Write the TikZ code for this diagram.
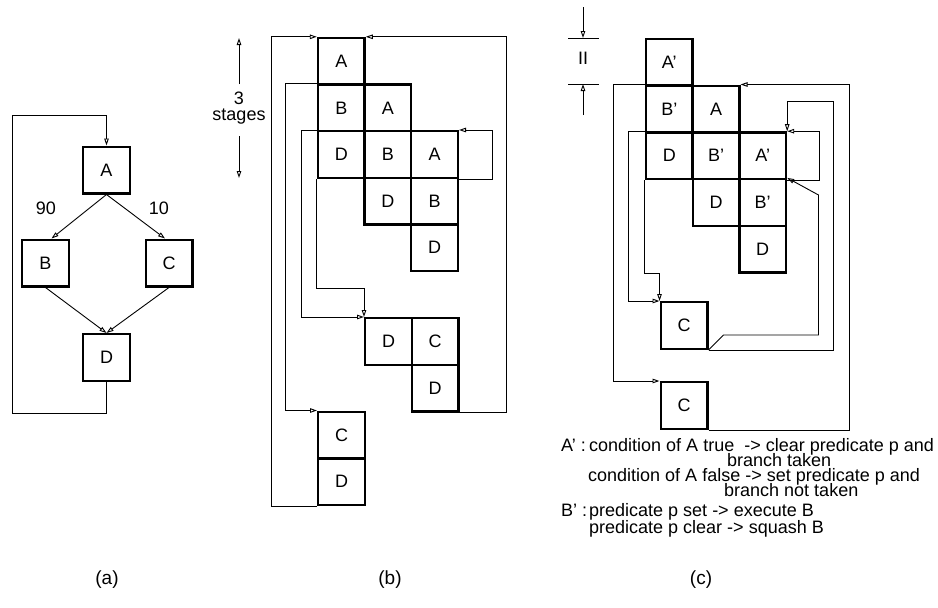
\documentclass[tikz,border=0pt]{standalone}
\usepackage{fontspec}
\setmainfont{Liberation Sans}
\usetikzlibrary{arrows.meta}

\begin{document}
\begin{tikzpicture}[x=1pt, y=-1pt,
  cell/.style={draw, line width=2.4pt, minimum width=46.6pt, minimum height=46.6pt,
    inner sep=0pt, font=\fontsize{18}{20}\selectfont},
  wire/.style={line width=0.9pt},
  flow/.style={wire, -{Triangle[open, length=7pt, width=4.5pt]}},
  txt/.style={inner sep=0pt, font=\fontsize{18}{20}\selectfont},
  lgd/.style={inner sep=0pt, anchor=base west, font=\fontsize{18}{20}\selectfont},
  figcap/.style={inner sep=0pt, font=\fontsize{19}{22}\selectfont}]
\useasboundingbox (0,0) rectangle (938,608);

% ---------------- (a) control flow graph ----------------
\node[cell] (aA) at (106.5,170) {A};
\node[cell] (aB) at (45.5,263) {B};
\node[cell] (aC) at (169,263) {C};
\node[cell] (aD) at (106.5,357.5) {D};
\draw[flow] (aA.south) -- ([xshift=6pt]aB.north);
\draw[flow] (aA.south) -- ([xshift=-4pt]aC.north);
\draw[flow] (aB.south) -- (aD.north);
\draw[flow] (aC.south) -- (aD.north);
\draw[flow] (aD.south) -- ++(0,31) -| (12,115) -| (aA.north);
\node[txt] (p90) at (46,208) {90};
\node[txt] (p10) at (159,208) {10};
\node[figcap] (capa) at (107,580) {(a)};

% ---------------- (b) schedule with branch ----------------
\node[cell] (bA0) at (341.3,61.3) {A};
\node[cell] (bB1) at (341.3,107.9) {B};
\node[cell] (bA1) at (387.9,107.9) {A};
\node[cell] (bD2) at (341.3,154.5) {D};
\node[cell] (bB2) at (387.9,154.5) {B};
\node[cell] (bA2) at (434.5,154.5) {A};
\node[cell] (bD3) at (387.9,201.1) {D};
\node[cell] (bB3) at (434.5,201.1) {B};
\node[cell] (bD4) at (434.5,247.7) {D};
\node[cell] (bmD) at (388.5,341.5) {D};
\node[cell] (bmC) at (435.1,341.5) {C};
\node[cell] (bmE) at (435.1,388.1) {D};
\node[cell] (bbC) at (341.5,435) {C};
\node[cell] (bbD) at (341.5,481.6) {D};

\draw[flow] (bbD.south west) -- ++(-46,0) |- (bA0.north west);
\draw[flow] (bmE.south east) -- ++(47,0) |- (bA0.north east);
\draw[flow] (bA2.south east) -- ++(33,0) |- (bA2.north east);
\draw[flow] (bB1.north west) -- ++(-31,0) |- (bbC.north west);
\draw[flow] (bD2.north west) -- ++(-15,0) |- (bmD.north west);
\draw[flow] (bD2.south west) -- ++(0,109) -| (bmD.north west);

\node[txt] (stg3) at (239,98) {3};
\node[txt] (stgs) at (239,117) {stages};
\draw[flow] (239,84) -- (239,38);
\draw[flow] (239,136) -- (239,178);
\node[figcap] (capb) at (390,580) {(b)};

% ---------------- (c) schedule with predication ----------------
\node[cell] (cA0) at (669.3,62.3) {A'};
\node[cell] (cB1) at (669.3,109) {B'};
\node[cell] (cA1) at (716,109) {A};
\node[cell] (cD2) at (669.3,155.7) {D};
\node[cell] (cB2) at (716,155.7) {B'};
\node[cell] (cA2) at (762.7,155.7) {A'};
\node[cell] (cD3) at (716,202.4) {D};
\node[cell] (cB3) at (762.7,202.4) {B'};
\node[cell] (cD4) at (762.7,249.1) {D};
\node[cell] (cmC) at (684,325.5) {C};
\node[cell] (cbC) at (684,405.5) {C};

\draw[flow] (cB1.north west) -- ++(-31,0) |- (cbC.north west);
\draw[flow] (cD2.north west) -- ++(-16,0) |- (cmC.north west);
\draw[flow] (cD2.south west) -- ++(0,93) -| (cmC.north west);
\draw[flow] (cbC.south east) -- ++(141,0) |- (cA1.north east);
\draw[flow] (cA2.south east) -- ++(32,0) |- (cA2.north east);
\draw[flow] (cmC.south east) -- ++(125,0) -- ++(0,-249) -| (cA2.north east);
\draw[flow] (cmC.south east) -- ++(15,-15) -- ++(95,0) -- ++(0,-140) -- (cB3.north east);

% initiation interval marker
\node[txt] (ii) at (583,58) {II};
\draw[wire] (568,38) -- (599,38);
\draw[wire] (568,84) -- (599,84);
\draw[flow] (583,7) -- (583,38);
\draw[flow] (583,115) -- (583,84);

% legend
\node[lgd] (l1a) at (561,451) {A' :};
\node[lgd] (l1b) at (589,451) {condition of A true \ -> clear predicate p and};
\node[lgd] (l2)  at (727,466) {branch taken};
\node[lgd] (l3)  at (588,481) {condition of A false -> set predicate p and};
\node[lgd] (l4)  at (724,496) {branch not taken};
\node[lgd] (l5a) at (561,516) {B' :};
\node[lgd] (l5b) at (589,516) {predicate p set -> execute B};
\node[lgd] (l6)  at (589,533) {predicate p clear -> squash B};
\node[figcap] (capc) at (701,580) {(c)};
\end{tikzpicture}
\end{document}
